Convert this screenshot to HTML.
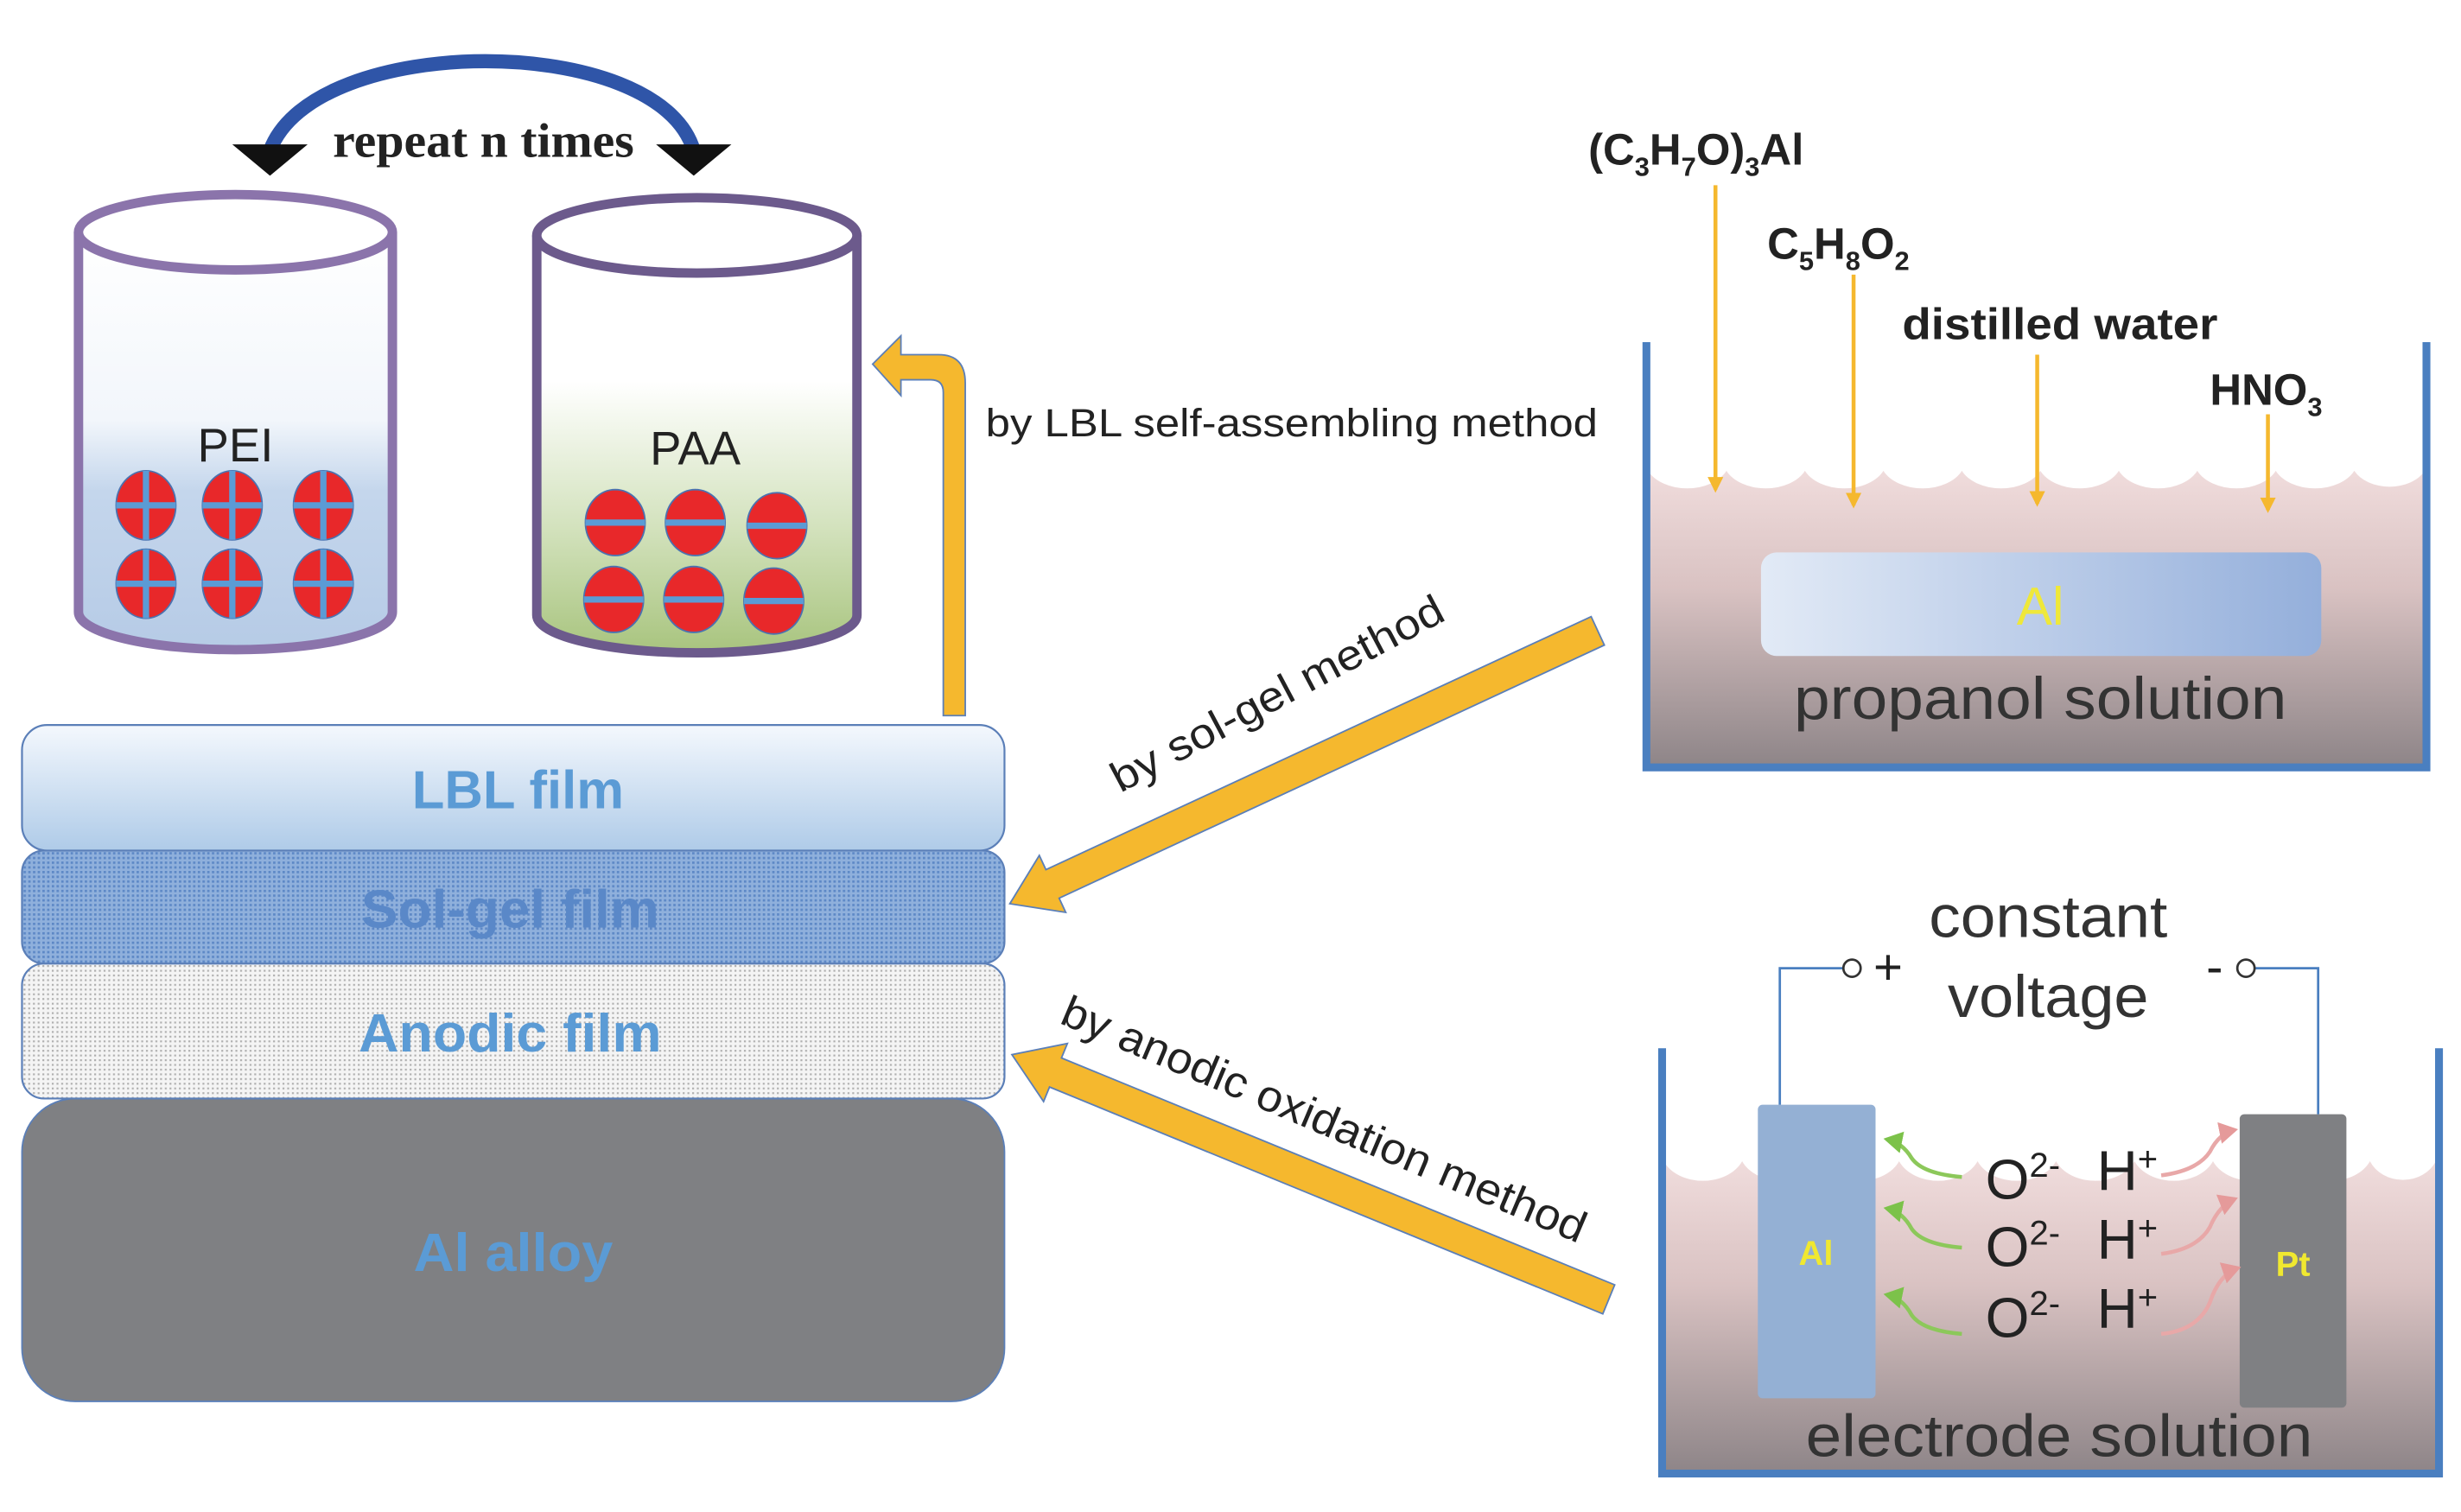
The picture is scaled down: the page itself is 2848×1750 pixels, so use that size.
<!DOCTYPE html>
<html><head><meta charset="utf-8"><style>
html,body{margin:0;padding:0;background:#fff;}
svg{display:block;}
text{font-family:"Liberation Sans",sans-serif;}
</style></head><body>
<svg width="2848" height="1750" viewBox="0 0 1568 963.5" xmlns="http://www.w3.org/2000/svg">
<defs>
<linearGradient id="pei" x1="0" y1="0" x2="0" y2="1">
<stop offset="0" stop-color="#ffffff"/><stop offset="0.45" stop-color="#f2f6fb"/><stop offset="0.62" stop-color="#c4d6ec"/><stop offset="1" stop-color="#b6cbe6"/></linearGradient>
<linearGradient id="paa" x1="0" y1="0" x2="0" y2="1">
<stop offset="0" stop-color="#ffffff"/><stop offset="0.35" stop-color="#ffffff"/><stop offset="0.7" stop-color="#d3e2bd"/><stop offset="1" stop-color="#a8c47e"/></linearGradient>
<linearGradient id="lbl" x1="0" y1="0" x2="0" y2="1">
<stop offset="0" stop-color="#f4f8fd"/><stop offset="1" stop-color="#afcbe8"/></linearGradient>
<linearGradient id="sol" x1="0" y1="0" x2="0" y2="1">
<stop offset="0" stop-color="#f0dcdc"/><stop offset="0.4" stop-color="#d9c2c2"/><stop offset="1" stop-color="#8e8588"/></linearGradient>
<linearGradient id="alr" x1="0" y1="0" x2="1" y2="0">
<stop offset="0" stop-color="#e2eaf6"/><stop offset="1" stop-color="#94afdb"/></linearGradient>
<pattern id="dots1" width="3" height="3" patternUnits="userSpaceOnUse"><rect width="3" height="3" fill="#8fb0dc"/><rect width="1.5" height="1.5" fill="#5d88c6"/></pattern>
<pattern id="dots2" width="3" height="3" patternUnits="userSpaceOnUse"><rect width="3" height="3" fill="#f4f4f4"/><rect width="1.2" height="1.2" fill="#b0b0b0"/></pattern>
<marker id="ya" markerWidth="10" markerHeight="10" refX="8" refY="5" orient="auto" markerUnits="userSpaceOnUse"><path d="M0,0 L10,5 L0,10 z" fill="#f5b82e"/></marker>
<marker id="ga" markerWidth="14" markerHeight="14" refX="10" refY="7" orient="auto" markerUnits="userSpaceOnUse"><path d="M0,0 L12,7 L0,14 z" fill="#7cc24a"/></marker>
<marker id="pa" markerWidth="14" markerHeight="14" refX="10" refY="7" orient="auto" markerUnits="userSpaceOnUse"><path d="M0,0 L12,7 L0,14 z" fill="#e59a9a"/></marker>
</defs>

<!-- repeat arc -->
<path d="M172,96 C200,20 420,20 442,96" fill="none" stroke="#2f55a8" stroke-width="9"/>
<polygon points="148,92 196,92 172,112" fill="#111"/>
<polygon points="418,92 466,92 442,112" fill="#111"/>
<text x="308" y="100" text-anchor="middle" font-weight="bold" font-size="31" fill="#222" style="font-family:'Liberation Serif',serif" textLength="192" lengthAdjust="spacingAndGlyphs">repeat n times</text>

<!-- PEI cylinder -->
<path d="M50,148 L50,390 A100,24 0 0 0 250,390 L250,148" fill="url(#pei)" stroke="#8b74ab" stroke-width="6"/>
<ellipse cx="150" cy="148" rx="100" ry="24" fill="#fff" stroke="#8b74ab" stroke-width="6"/>
<text x="150" y="294" text-anchor="middle" font-size="30" fill="#222">PEI</text>
<g fill="#e8282a" stroke="#4a72b0" stroke-width="1">
<ellipse cx="93" cy="322" rx="19" ry="22"/><ellipse cx="148" cy="322" rx="19" ry="22"/><ellipse cx="206" cy="322" rx="19" ry="22"/>
<ellipse cx="93" cy="372" rx="19" ry="22"/><ellipse cx="148" cy="372" rx="19" ry="22"/><ellipse cx="206" cy="372" rx="19" ry="22"/></g>
<g stroke="#5b9bd5" stroke-width="4">
<path d="M74,322h38M93,300v44M129,322h38M148,300v44M187,322h38M206,300v44M74,372h38M93,350v44M129,372h38M148,350v44M187,372h38M206,350v44"/></g>

<!-- PAA cylinder -->
<path d="M342,150 L342,392 A102,24 0 0 0 546,392 L546,150" fill="url(#paa)" stroke="#6c5a8c" stroke-width="6"/>
<ellipse cx="444" cy="150" rx="102" ry="24" fill="#fff" stroke="#6c5a8c" stroke-width="6"/>
<text x="443" y="296" text-anchor="middle" font-size="30" fill="#222">PAA</text>
<g fill="#e8282a" stroke="#4a72b0" stroke-width="1">
<ellipse cx="392" cy="333" rx="19" ry="21"/><ellipse cx="443" cy="333" rx="19" ry="21"/><ellipse cx="495" cy="335" rx="19" ry="21"/>
<ellipse cx="391" cy="382" rx="19" ry="21"/><ellipse cx="442" cy="382" rx="19" ry="21"/><ellipse cx="493" cy="383" rx="19" ry="21"/></g>
<g stroke="#5b9bd5" stroke-width="4"><path d="M373,333h38M424,333h38M476,335h38M372,382h38M423,382h38M474,383h38"/></g>

<!-- LBL arrow -->
<path d="M601,456 L601,250 Q601,242 593,242 L574,242 L574,252 L556,232 L574,214 L574,226 L598,226 Q615,226 615,244 L615,456 Z" fill="#f5b82e" stroke="#5b7fb8" stroke-width="1"/>
<text x="628" y="278" font-size="25" fill="#222" textLength="390" lengthAdjust="spacingAndGlyphs">by LBL self-assembling method</text>

<!-- layers -->
<rect x="14" y="700" width="626" height="193" rx="34" fill="#7f8083" stroke="#5b7fb8" stroke-width="1"/>
<rect x="14" y="614" width="626" height="86" rx="14" fill="url(#dots2)" stroke="#5b7fb8" stroke-width="1.2"/>
<rect x="14" y="542" width="626" height="72" rx="14" fill="url(#dots1)" stroke="#5b7fb8" stroke-width="1.2"/>
<rect x="14" y="462" width="626" height="80" rx="16" fill="url(#lbl)" stroke="#5b7fb8" stroke-width="1.2"/>
<g font-weight="bold" font-size="34" fill="#5b9bd5" text-anchor="middle">
<text x="330" y="515" textLength="135" lengthAdjust="spacingAndGlyphs">LBL film</text>
<text x="325" y="591" fill="#5a88c8" textLength="190" lengthAdjust="spacingAndGlyphs">Sol-gel film</text>
<text x="325" y="670" textLength="193" lengthAdjust="spacingAndGlyphs">Anodic film</text>
<text x="327" y="810" textLength="127" lengthAdjust="spacingAndGlyphs">Al alloy</text></g>

<!-- sol-gel arrow -->
<g transform="translate(1018,402) rotate(155.1)">
<polygon points="0,-10 383,-10 383,-20 413,0 383,20 383,10 0,10" fill="#f5b82e" stroke="#5b7fb8" stroke-width="1"/></g>
<text transform="translate(818,450) rotate(-28)" text-anchor="middle" font-size="27" fill="#222" textLength="236" lengthAdjust="spacingAndGlyphs">by sol-gel method</text>

<!-- anodic arrow -->
<g transform="translate(1025,828) rotate(202.3)">
<polygon points="0,-10 381,-10 381,-20 411,0 381,20 381,10 0,10" fill="#f5b82e" stroke="#5b7fb8" stroke-width="1"/></g>
<text transform="translate(840,722) rotate(23)" text-anchor="middle" font-size="28" fill="#222" textLength="360" lengthAdjust="spacingAndGlyphs">by anodic oxidation method</text>

<!-- top-right beaker -->
<path d="M1050,300 A27,18 0 0 0 1100,300 A27,18 0 0 0 1150,300 A27,18 0 0 0 1200,300 A27,18 0 0 0 1250,300 A27,18 0 0 0 1300,300 A27,18 0 0 0 1350,300 A27,18 0 0 0 1400,300 A27,18 0 0 0 1450,300 A27,18 0 0 0 1500,300 A25,18 0 0 0 1545,300 L1545,488 L1050,488 Z" fill="url(#sol)"/>
<path d="M1049,218 V489 H1546 V218" fill="none" stroke="#4a7fc0" stroke-width="5"/>
<rect x="1122" y="352" width="357" height="66" rx="10" fill="url(#alr)"/>
<text x="1300" y="398" text-anchor="middle" font-size="34" fill="#efe83a">Al</text>
<text x="1300" y="458" text-anchor="middle" font-size="38" fill="#333" textLength="314" lengthAdjust="spacingAndGlyphs">propanol solution</text>
<g font-weight="bold" font-size="28" fill="#222">
<text x="1012" y="105">(C<tspan font-size="17" dy="7">3</tspan><tspan dy="-7">H</tspan><tspan font-size="17" dy="7">7</tspan><tspan dy="-7">O)</tspan><tspan font-size="17" dy="7">3</tspan><tspan dy="-7">Al</tspan></text>
<text x="1126" y="165">C<tspan font-size="17" dy="7">5</tspan><tspan dy="-7">H</tspan><tspan font-size="17" dy="7">8</tspan><tspan dy="-7">O</tspan><tspan font-size="17" dy="7">2</tspan></text>
<text x="1212" y="216" textLength="201" lengthAdjust="spacingAndGlyphs">distilled water</text>
<text x="1408" y="258">HNO<tspan font-size="17" dy="7">3</tspan></text></g>
<g stroke="#f5b82e" stroke-width="2.5" marker-end="url(#ya)">
<line x1="1093" y1="118" x2="1093" y2="312"/><line x1="1181" y1="175" x2="1181" y2="322"/>
<line x1="1298" y1="226" x2="1298" y2="321"/><line x1="1445" y1="264" x2="1445" y2="325"/></g>

<!-- bottom-right beaker -->
<path d="M1060,740 A27,20 0 0 0 1110,740 A27,20 0 0 0 1160,740 A27,20 0 0 0 1210,740 A27,20 0 0 0 1260,740 A27,20 0 0 0 1310,740 A27,20 0 0 0 1360,740 A27,20 0 0 0 1410,740 A27,20 0 0 0 1460,740 A27,20 0 0 0 1510,740 A23,20 0 0 0 1552,740 L1552,938 L1060,938 Z" fill="url(#sol)"/>
<path d="M1059,668 V939 H1554 V668" fill="none" stroke="#4a7fc0" stroke-width="5"/>
<rect x="1120" y="704" width="75" height="187" rx="3" fill="#94b0d4"/>
<rect x="1427" y="710" width="68" height="187" rx="3" fill="#7f8083"/>
<text x="1157" y="806" text-anchor="middle" font-weight="bold" font-size="22" fill="#f0e830">Al</text>
<text x="1461" y="813" text-anchor="middle" font-weight="bold" font-size="22" fill="#f0e830">Pt</text>
<path d="M1134,704 V617 H1174 M1436,617 H1477 V710" fill="none" stroke="#4a7fc0" stroke-width="1.5"/>
<circle cx="1180" cy="617" r="5.5" fill="#fff" stroke="#333" stroke-width="1.5"/>
<circle cx="1431" cy="617" r="5.5" fill="#fff" stroke="#333" stroke-width="1.5"/>
<text x="1203" y="627" text-anchor="middle" font-size="32" fill="#222">+</text>
<text x="1411" y="627" text-anchor="middle" font-size="32" fill="#222">-</text>
<text x="1305" y="597" text-anchor="middle" font-size="38" fill="#333" textLength="152" lengthAdjust="spacingAndGlyphs">constant</text>
<text x="1305" y="648" text-anchor="middle" font-size="38" fill="#333" textLength="128" lengthAdjust="spacingAndGlyphs">voltage</text>
<g font-size="36" fill="#222">
<text x="1265" y="764">O<tspan font-size="22" dy="-14">2-</tspan></text><text x="1336" y="758">H<tspan font-size="22" dy="-12">+</tspan></text>
<text x="1265" y="807">O<tspan font-size="22" dy="-14">2-</tspan></text><text x="1336" y="802">H<tspan font-size="22" dy="-12">+</tspan></text>
<text x="1265" y="852">O<tspan font-size="22" dy="-14">2-</tspan></text><text x="1336" y="846">H<tspan font-size="22" dy="-12">+</tspan></text></g>
<g fill="none" stroke="#8cc85a" stroke-width="2.5" marker-end="url(#ga)">
<path d="M1250,750 Q1225,748 1218,738 Q1212,728 1202,726"/>
<path d="M1250,795 Q1225,793 1218,783 Q1212,772 1202,770"/>
<path d="M1250,850 Q1225,848 1218,838 Q1212,827 1202,825"/></g>
<g fill="none" stroke="#e8a8a8" stroke-width="2.5" marker-end="url(#pa)">
<path d="M1377,749 Q1400,746 1408,734 Q1414,722 1424,720"/>
<path d="M1377,799 Q1400,796 1408,782 Q1414,768 1424,764"/>
<path d="M1377,850 Q1400,848 1408,830 Q1414,812 1426,808"/></g>
<text x="1312" y="928" text-anchor="middle" font-size="38" fill="#333" textLength="323" lengthAdjust="spacingAndGlyphs">electrode solution</text>
</svg>
</body></html>
